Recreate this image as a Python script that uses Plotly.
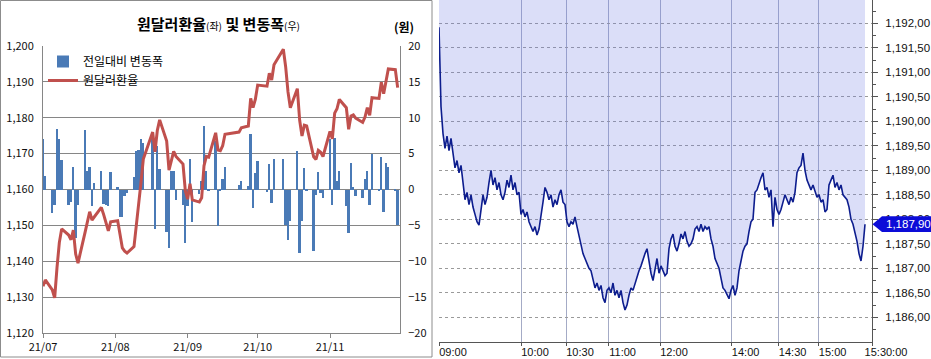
import plotly.graph_objects as go

# ---------------- Left panel data (daily) ----------------
dates = [
    "2021-07-01", "2021-07-02", "2021-07-05", "2021-07-06", "2021-07-07", "2021-07-08", "2021-07-09",
    "2021-07-12", "2021-07-13", "2021-07-14", "2021-07-15", "2021-07-16", "2021-07-19", "2021-07-20",
    "2021-07-21", "2021-07-22", "2021-07-23", "2021-07-26", "2021-07-27", "2021-07-28", "2021-07-29",
    "2021-07-30", "2021-08-02", "2021-08-03", "2021-08-04", "2021-08-05", "2021-08-06", "2021-08-09",
    "2021-08-10", "2021-08-11", "2021-08-12", "2021-08-13", "2021-08-17", "2021-08-18", "2021-08-19",
    "2021-08-20", "2021-08-23", "2021-08-24", "2021-08-25", "2021-08-26", "2021-08-27", "2021-08-30",
    "2021-08-31", "2021-09-01", "2021-09-02", "2021-09-03", "2021-09-06", "2021-09-07", "2021-09-08",
    "2021-09-09", "2021-09-10", "2021-09-13", "2021-09-14", "2021-09-15", "2021-09-16", "2021-09-17",
    "2021-09-23", "2021-09-24", "2021-09-27", "2021-09-28", "2021-09-29", "2021-09-30", "2021-10-01",
    "2021-10-05", "2021-10-06", "2021-10-07", "2021-10-08", "2021-10-12", "2021-10-13", "2021-10-14",
    "2021-10-15", "2021-10-18", "2021-10-19", "2021-10-20", "2021-10-21", "2021-10-22", "2021-10-25",
    "2021-10-26", "2021-10-27", "2021-10-28", "2021-10-29", "2021-11-01", "2021-11-02", "2021-11-03",
    "2021-11-04", "2021-11-05", "2021-11-08", "2021-11-09", "2021-11-10", "2021-11-11", "2021-11-12",
    "2021-11-15", "2021-11-16", "2021-11-17", "2021-11-18", "2021-11-19", "2021-11-22", "2021-11-23",
    "2021-11-24", "2021-11-25", "2021-11-26", "2021-11-29", "2021-11-30",
]
usdkrw = [
    1133.0, 1134.8, 1132.0, 1129.8, 1138.2, 1145.2, 1149.0,
    1147.3, 1146.0, 1148.7, 1142.0, 1139.5, 1148.0, 1150.6,
    1153.8, 1151.5, 1152.4, 1155.0, 1153.0, 1150.8, 1148.5,
    1151.0, 1151.3, 1147.5, 1143.7, 1142.8, 1142.3, 1144.1,
    1149.5, 1155.0, 1162.0, 1168.5, 1176.0, 1170.5, 1176.5,
    1179.4, 1173.5, 1165.4, 1168.0, 1170.6, 1169.2, 1167.1,
    1159.6, 1157.3, 1161.6, 1157.1, 1156.5, 1157.7, 1166.6,
    1169.2, 1169.0, 1175.8, 1171.0, 1170.8, 1172.2, 1175.4,
    1176.0, 1177.2, 1177.7, 1185.4, 1182.8, 1185.1, 1189.1,
    1188.8, 1192.4, 1190.5, 1194.8, 1199.1, 1194.2, 1187.2,
    1182.8, 1188.1, 1179.3, 1174.9, 1177.9, 1177.7, 1169.1,
    1168.4, 1170.9, 1170.4, 1169.2, 1176.2, 1174.1, 1181.3,
    1182.5, 1185.1, 1182.8, 1176.8, 1180.5, 1180.8, 1179.9,
    1178.7, 1180.2, 1182.8, 1180.7, 1185.6, 1185.4, 1189.9,
    1186.7, 1190.4, 1193.6, 1193.4, 1188.4,
]
daily_change = [
    7.0, 1.9, -3.3, -2.2, 8.4, 7.0, 4.1,
    -2.1, -1.7, 3.2, -6.8, -2.1, 8.3, 2.6,
    3.2, -2.3, 0.9, 2.6, -2.0, -2.2, -2.3,
    2.5, 0.3, -3.8, -3.8, -0.9, -0.5, 1.8,
    5.4, 5.5, 7.0, 6.5, 7.5, -5.5, 6.0,
    2.9, -5.9, -8.1, 2.6, 2.6, -1.4, -2.1,
    -7.5, -2.3, 4.3, -4.5, -0.6, 1.2, 8.9,
    2.6, -0.2, 6.8, -5.1, -0.2, 1.4, 3.2,
    0.6, 1.2, 0.5, 7.7, -2.6, 2.3, 4.0,
    -0.3, 3.6, -1.9, 4.3, 4.3, -4.9, -7.0,
    -4.4, 5.3, -8.8, -4.4, 3.0, -0.2, -8.6,
    -0.7, 2.5, -0.5, -1.2, 7.0, -2.1, 7.2,
    1.2, 2.6, -2.3, -6.0, 3.7, 0.3, -0.9,
    -1.2, 1.5, 2.6, -2.1, 4.9, -0.2, 4.5,
    -3.2, 3.7, 3.2, -0.2, -5.0,
]
month_ticks = ["2021-07-01", "2021-08-01", "2021-09-01", "2021-10-01", "2021-11-01"]
month_labels = ["21/07", "21/08", "21/09", "21/10", "21/11"]

# ---------------- Right panel data (intraday, sequence of observations) ----------------
intraday = [
    1191.92, 1190.30, 1189.75, 1189.45, 1189.70, 1189.40, 1189.65, 1189.35, 1189.05, 1189.20,
    1188.95, 1189.10, 1188.70, 1188.40, 1188.55, 1188.30, 1188.50, 1188.25, 1188.10, 1187.95,
    1187.88, 1188.15, 1188.50, 1188.30, 1188.45, 1188.75, 1189.00, 1188.70, 1188.85, 1188.60,
    1188.75, 1188.50, 1188.40, 1188.55, 1188.80, 1188.65, 1188.90, 1188.60, 1188.75, 1188.50,
    1188.55, 1188.10, 1188.20, 1188.05, 1188.15, 1187.95, 1187.85, 1187.75, 1187.85, 1187.68,
    1187.80, 1188.05, 1188.35, 1188.65, 1188.55, 1188.40, 1188.50, 1188.25, 1188.40, 1188.30,
    1188.50, 1188.60, 1188.35, 1188.30, 1187.95, 1187.85, 1187.95, 1187.90, 1188.05, 1187.85,
    1187.65, 1187.45, 1187.30, 1187.20, 1187.10, 1187.00, 1186.95, 1186.75, 1186.60, 1186.70,
    1186.55, 1186.65, 1186.40, 1186.30, 1186.55, 1186.60, 1186.50, 1186.70, 1186.45, 1186.55,
    1186.40, 1186.55, 1186.30, 1186.15, 1186.25, 1186.45, 1186.60, 1186.55, 1186.70, 1186.85,
    1186.95, 1187.05, 1187.20, 1187.30, 1187.40, 1187.15, 1186.90, 1186.75, 1187.00, 1187.20,
    1186.90, 1187.05, 1186.95, 1186.85, 1186.90, 1187.40, 1187.60, 1187.70, 1187.45, 1187.35,
    1187.50, 1187.70, 1187.60, 1187.75, 1187.55, 1187.45, 1187.50, 1187.60, 1187.80, 1187.85,
    1187.75, 1187.90, 1187.75, 1187.85, 1187.80, 1187.85, 1187.60, 1187.45, 1187.20, 1187.10,
    1187.00, 1186.80, 1186.60, 1186.55, 1186.45, 1186.38, 1186.55, 1186.65, 1186.45, 1186.60,
    1186.95, 1187.15, 1187.35, 1187.45, 1187.50, 1187.75, 1187.95, 1188.00, 1188.55, 1188.60,
    1188.75, 1188.85, 1188.95, 1188.60, 1188.65, 1188.45, 1188.60, 1187.85, 1188.45, 1188.20,
    1188.10, 1188.20, 1188.35, 1188.50, 1188.40, 1188.30, 1188.45, 1188.35, 1188.55, 1188.95,
    1189.05, 1189.10, 1189.35, 1189.00, 1188.80, 1188.70, 1188.60, 1188.70, 1188.55, 1188.45,
    1188.50, 1188.35, 1188.40, 1188.15, 1188.20, 1188.70, 1188.80, 1188.90, 1188.65, 1188.75,
    1188.60, 1188.70, 1188.50, 1188.45, 1188.40, 1188.25, 1188.00, 1187.90, 1187.75, 1187.55,
    1187.30, 1187.15, 1187.45, 1187.90,
]
time_tick_pos = [0, 41, 63.5, 84.8, 110.5, 146.3, 169.8, 189.8, 216.5]
time_tick_labels = ["09:00", "10:00", "10:30", "11:00", "12:00", "14:00", "14:30", "15:00", "15:30:00"]
price_ticks = [1186.0, 1186.5, 1187.0, 1187.5, 1188.0, 1188.5, 1189.0, 1189.5,
               1190.0, 1190.5, 1191.0, 1191.5, 1192.0]


def krw_fmt(v):
    return f"{v:,.2f}".replace(".", ",")


W, H = 931, 359
KR = "Noto Sans CJK KR"
LAT = "Liberation Sans"

fig = go.Figure()

# left: bars (right axis) then line (left axis, overlaying so drawn on top)
fig.add_trace(go.Bar(
    x=dates, y=daily_change, name="전일대비 변동폭",
    marker=dict(color="#4a7ab6", line=dict(width=0)),
    width=0.72 * 86400000, xaxis="x", yaxis="y",
))
fig.add_trace(go.Scatter(
    x=dates, y=usdkrw, name="원달러환율", mode="lines",
    line=dict(color="#c0504d", width=3), xaxis="x", yaxis="y2",
))

# right: intraday with fill above the line
y3_range = [1185.496, 1192.476]
idx = list(range(len(intraday)))
fig.add_trace(go.Scatter(
    x=idx, y=[y3_range[1]] * len(intraday), mode="lines",
    line=dict(width=0, color="rgba(0,0,0,0)"), xaxis="x2", yaxis="y3",
    showlegend=False, hoverinfo="skip",
))
fig.add_trace(go.Scatter(
    x=idx, y=intraday, mode="lines", fill="tonexty",
    fillcolor="rgba(112,122,226,0.25)",
    line=dict(color="#0d1d8e", width=1.6), xaxis="x2", yaxis="y3",
    showlegend=False,
))

grid_l = "#868686"
fig.update_layout(
    width=W, height=H, margin=dict(l=0, r=0, t=0, b=0, autoexpand=False),
    paper_bgcolor="white", plot_bgcolor="white",
    bargap=0, showlegend=True,
    legend=dict(x=43 / W, y=1 - 47 / H, xanchor="left", yanchor="top",
                traceorder="normal",
                bgcolor="rgba(0,0,0,0)", font=dict(family=KR, size=12, color="#000"),
                itemwidth=30, tracegroupgap=0),
    xaxis=dict(
        type="date", domain=[43 / W, 400 / W], anchor="y", automargin=False,
        range=["2021-07-01", "2021-12-01"],
        tickvals=month_ticks, ticktext=month_labels,
        showgrid=False, showline=True, linecolor=grid_l, linewidth=1,
        ticks="outside", ticklen=4, tickcolor=grid_l,
        tickfont=dict(family=KR, size=11, color="#111"), zeroline=False,
    ),
    yaxis=dict(
        domain=[26 / H, 313 / H], anchor="x", side="right", automargin=False,
        range=[-20, 20], dtick=5, tickmode="linear", tick0=0,
        showgrid=True, gridcolor=grid_l, gridwidth=1,
        showline=True, linecolor=grid_l, zeroline=False, ticks="",
        ticklabelstandoff=5,
        tickfont=dict(family=KR, size=11, color="#111"),
    ),
    yaxis2=dict(
        overlaying="y", anchor="x", side="left", automargin=False,
        range=[1120, 1200], dtick=10, tickmode="linear", tick0=1120,
        tickformat=",", showgrid=False, showline=True, linecolor=grid_l,
        zeroline=False, ticks="", ticklabelstandoff=6,
        tickfont=dict(family=KR, size=11, color="#111"),
    ),
    xaxis2=dict(
        domain=[439 / W, 872 / W], anchor="y3", range=[0, 216.5], automargin=False,
        tickvals=time_tick_pos, ticktext=time_tick_labels,
        showgrid=True, gridcolor="#a4abc6", gridwidth=1,
        showline=True, linecolor="#555555", zeroline=False,
        ticks="outside", ticklen=3, tickcolor="#555555",
        ticklabelshift=14, ticklabelstandoff=-3,
        tickfont=dict(family=LAT, size=11, color="#111"),
    ),
    yaxis3=dict(
        domain=[17 / H, 1], anchor="x2", side="right", range=y3_range, automargin=False,
        tickvals=price_ticks, ticktext=[krw_fmt(v) for v in price_ticks],
        showgrid=True, gridcolor="#9a9a9a", griddash="dot", gridwidth=1,
        showline=True, linecolor="#555555", zeroline=False,
        ticks="outside", ticklen=5, tickcolor="#555555",
        minor=dict(tickmode="linear", tick0=1186.25, dtick=0.5, ticks="outside",
                   ticklen=3, tickcolor="#555555", showgrid=False),
        ticklabelstandoff=5,
        tickfont=dict(family=LAT, size=11.5, color="#111"),
    ),
)

# left panel frame
fig.add_shape(type="rect", xref="paper", yref="paper",
              x0=0.5 / W, x1=432 / W, y0=1 - 357 / H, y1=1 - 0.5 / H,
              line=dict(color="#8c8c8c", width=1), fillcolor="rgba(0,0,0,0)", layer="below")

# title and unit
fig.add_annotation(
    xref="paper", yref="paper", x=218 / W, y=1 - 23 / H, xanchor="center", yanchor="middle",
    text="<b>원달러환율</b><span style='font-size:10px'>(좌)</span><b> 및 변동폭</b><span style='font-size:10px'>(우)</span>",
    showarrow=False, font=dict(family=KR, size=15, color="#000"),
)
fig.add_annotation(
    xref="paper", yref="paper", x=404 / W, y=1 - 26 / H, xanchor="center", yanchor="middle",
    text="<b>(원)</b>", showarrow=False, font=dict(family=KR, size=12, color="#000"),
)

# last-price tag on the right axis
last = intraday[-1]
h = 0.16
x_tip, x_box = 872.5 / W, 882 / W
fig.add_shape(type="path", xref="paper", yref="y3", layer="above",
              path=f"M {x_tip},{last} L {x_box},{last + h} L 1,{last + h} L 1,{last - h} L {x_box},{last - h} Z",
              fillcolor="#0c0cd8", line=dict(width=0))
fig.add_annotation(xref="paper", yref="y3", x=884 / W, y=last, xanchor="left", yanchor="middle",
                   text=krw_fmt(last), showarrow=False,
                   font=dict(family=LAT, size=11.5, color="white"))

fig.write_html("out.html")
